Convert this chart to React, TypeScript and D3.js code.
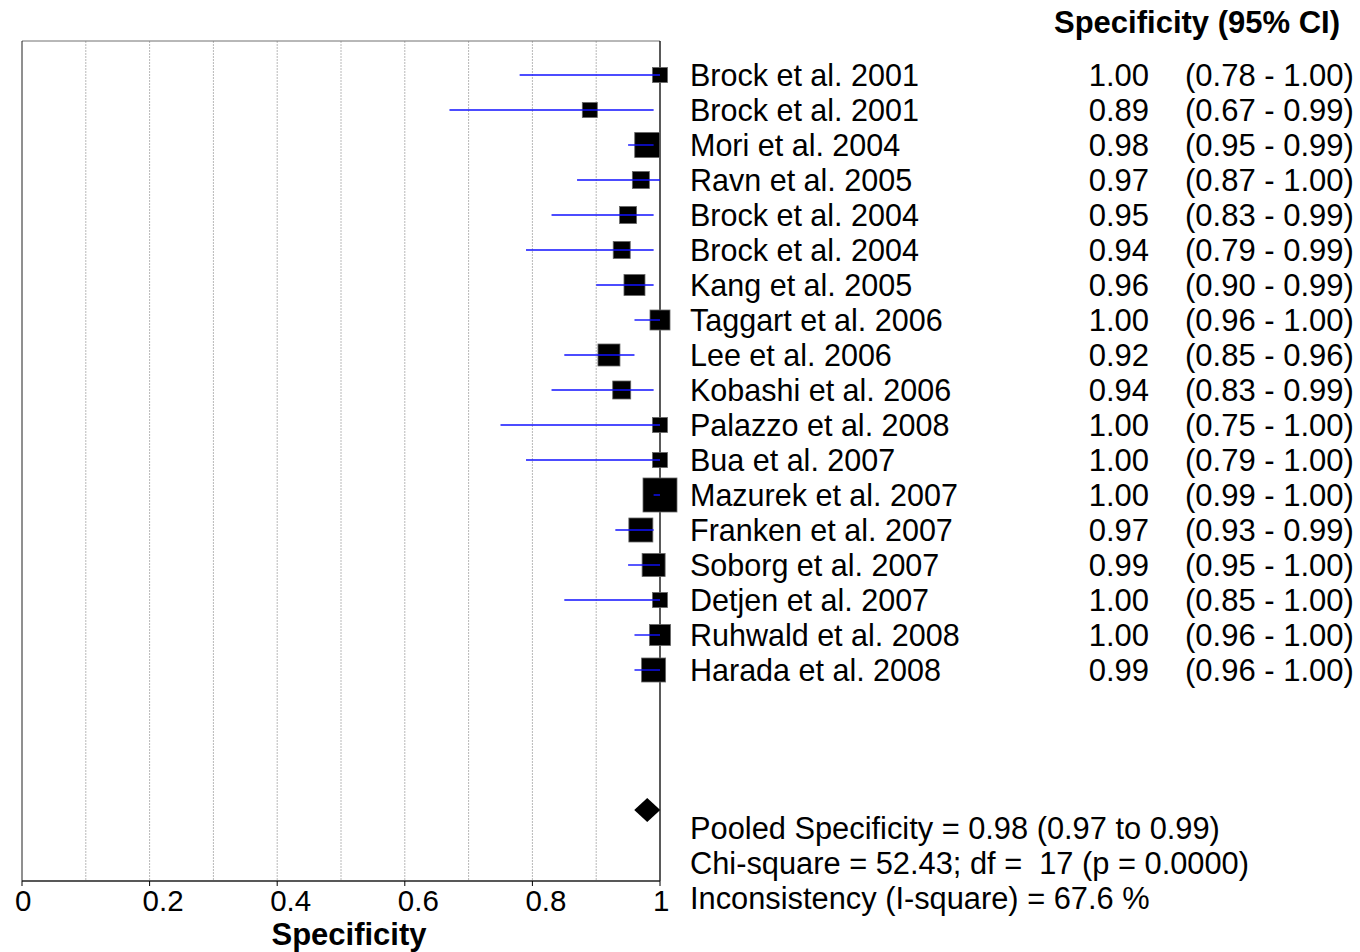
import React from 'react';
import * as d3 from 'd3';

const studies = [
  'Brock et al. 2001', 'Brock et al. 2001', 'Mori et al. 2004', 'Ravn et al. 2005',
  'Brock et al. 2004', 'Brock et al. 2004', 'Kang et al. 2005', 'Taggart et al. 2006',
  'Lee et al. 2006', 'Kobashi et al. 2006', 'Palazzo et al. 2008', 'Bua et al. 2007',
  'Mazurek et al. 2007', 'Franken et al. 2007', 'Soborg et al. 2007', 'Detjen et al. 2007',
  'Ruhwald et al. 2008', 'Harada et al. 2008',
];
const spec = [1.00, 0.89, 0.98, 0.97, 0.95, 0.94, 0.96, 1.00, 0.92, 0.94, 1.00, 1.00, 1.00, 0.97, 0.99, 1.00, 1.00, 0.99];
const ciLow = [0.78, 0.67, 0.95, 0.87, 0.83, 0.79, 0.90, 0.96, 0.85, 0.83, 0.75, 0.79, 0.99, 0.93, 0.95, 0.85, 0.96, 0.96];
const ciHigh = [1.00, 0.99, 0.99, 1.00, 0.99, 0.99, 0.99, 1.00, 0.96, 0.99, 1.00, 1.00, 1.00, 0.99, 1.00, 1.00, 1.00, 1.00];
// relative study weights (drive marker size)
const weights = [15, 15, 25, 17, 17, 17, 21, 20, 22, 18, 15, 15, 34, 24, 23, 15, 21, 24];

const pooled = 0.98;
const xTicks = [0, 0.2, 0.4, 0.6, 0.8, 1];
const gridTicks = [0.1, 0.2, 0.3, 0.4, 0.5, 0.6, 0.7, 0.8, 0.9];
const summaryLines = [
  'Pooled Specificity = 0.98 (0.97 to 0.99)',
  'Chi-square = 52.43; df =  17 (p = 0.0000)',
  'Inconsistency (I-square) = 67.6 %',
];

const W = 1360;
const H = 952;
const FONT = '"Liberation Sans", Arial, sans-serif';

export default function App() {
  const margin = { top: 41, left: 22, right: 660, bottom: 881 };

  const x = d3.scaleLinear().domain([0, 1]).range([margin.left, margin.right]);
  // row index -> center y (summary rows continue on the same band)
  const y = d3.scaleLinear().domain([0, 17]).range([75, 670]);
  const size = d3.scaleLinear().domain(d3.extent(weights) as [number, number]).range([15, 34]);
  const fmt = d3.format('.2f');

  const diamondY = y(21);
  const diamond = [
    [x(pooled) - 13, diamondY],
    [x(pooled), diamondY - 12],
    [x(pooled) + 13, diamondY],
    [x(pooled), diamondY + 12],
  ];

  return (
    <svg width={W} height={H} style={{ position: 'absolute', left: 0, top: 0, background: '#fff' }}
      fontFamily={FONT}>
      {/* grid */}
      {gridTicks.map(t => (
        <line key={'g' + t} x1={x(t)} x2={x(t)} y1={margin.top} y2={margin.bottom}
          stroke="#b8b8b8" strokeWidth={1} strokeDasharray="2,1" />
      ))}
      {/* frame */}
      <line x1={margin.left} x2={margin.right} y1={margin.top} y2={margin.top} stroke="#707070" strokeWidth={1} />
      <line x1={margin.left} x2={margin.left} y1={margin.top} y2={margin.bottom} stroke="#202020" strokeWidth={1} />
      <line x1={x(1)} x2={x(1)} y1={margin.top} y2={margin.bottom} stroke="#000" strokeWidth={1.3} />
      <line x1={margin.left} x2={margin.right} y1={margin.bottom} y2={margin.bottom} stroke="#202020" strokeWidth={1.3} />

      {/* x axis ticks */}
      {xTicks.map(t => (
        <g key={'t' + t}>
          <line x1={x(t)} x2={x(t)} y1={margin.bottom} y2={margin.bottom + 5} stroke="#000" />
          <text x={x(t) - 7} y={911} fontSize={29.5} fill="#000">{String(t)}</text>
        </g>
      ))}
      <text x={349} y={945} textAnchor="middle" fontSize={31} fontWeight="bold">Specificity</text>

      {/* studies */}
      {studies.map((s, i) => {
        const cy = y(i);
        const sz = size(weights[i]);
        return (
          <g key={'s' + i}>
            <rect x={x(spec[i]) - sz / 2} y={cy - sz / 2} width={sz} height={sz}
              fill="#000" stroke="#666" strokeWidth={0.8} />
            <line x1={x(ciLow[i])} x2={x(ciHigh[i])} y1={cy} y2={cy} stroke="#1010ff" strokeWidth={1.4} />
            <text x={690} y={cy + 11} fontSize={30.5} fill="#000">{s}</text>
            <text x={1149} y={cy + 11} fontSize={31} fill="#000" textAnchor="end">{fmt(spec[i])}</text>
            <text x={1185} y={cy + 11} fontSize={31} fill="#000">{`(${fmt(ciLow[i])} - ${fmt(ciHigh[i])})`}</text>
          </g>
        );
      })}

      {/* pooled diamond */}
      <polygon points={diamond.map(p => p.join(',')).join(' ')} fill="#000" />

      {summaryLines.map((l, i) => (
        <text key={'l' + i} x={690} y={y(21.5 + i) + 11} fontSize={30.8} fill="#000"
          style={{ whiteSpace: 'pre' }}>{l}</text>
      ))}

      <text x={1054} y={33} fontSize={31} fontWeight="bold">Specificity (95% CI)</text>
    </svg>
  );
}
